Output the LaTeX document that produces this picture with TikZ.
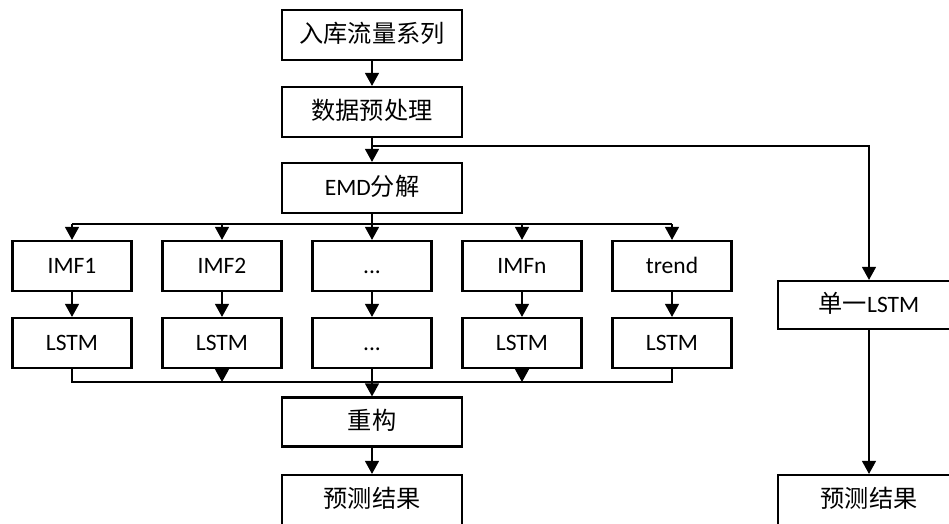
\documentclass[tikz,border=0pt]{standalone}
\usepackage{fontspec}
\setmainfont{Carlito}
\newfontfamily\cjk[Scale=1.03]{Noto Sans CJK SC}
\usetikzlibrary{arrows.meta}
\tikzset{
  box/.style={draw,line width=2.2pt,minimum width=180pt,minimum height=50pt,inner sep=0pt,
    text height=18pt,text depth=4pt,font=\fontsize{23.5}{28}\selectfont},
  smallbox/.style={box,minimum width=119pt},
  link/.style={line width=1.2pt}
}
\begin{document}
\begin{tikzpicture}[x=1pt,y=-1pt,>={Triangle[width=14pt,length=13pt]}]
\useasboundingbox (0,0) rectangle (949,523);
% main column
\node[box](in)at(372,35){\cjk 入库流量系列};
\node[box](pre)at(372,112){\cjk 数据预处理};
\node[box](emd)at(372,188){EMD{\cjk 分解}};
% components
\node[smallbox](imf1)at(72,266){IMF1};
\node[smallbox](imf2)at(222,266){IMF2};
\node[smallbox](dots)at(372,266){.{}.{}.};
\node[smallbox](imfn)at(522,266){IMFn};
\node[smallbox](trend)at(672,266){trend};
\node[smallbox](lstm1)at(72,343){LSTM};
\node[smallbox](lstm2)at(222,343){LSTM};
\node[smallbox](lstm3)at(372,343){.{}.{}.};
\node[smallbox](lstm4)at(522,343){LSTM};
\node[smallbox](lstm5)at(672,343){LSTM};
\node[box,minimum height=49pt](rec)at(372,422){\cjk 重构};
\node[box](res)at(372,500){\cjk 预测结果};
% single model
\node[box,minimum width=182pt,minimum height=48pt](single)at(869,305){{\cjk 单一}LSTM};
\node[box,minimum width=182pt](res2)at(869,500){\cjk 预测结果};
\coordinate(split)at(372,146);
\coordinate(top)at(372,224);
\coordinate(bot)at(372,382);

\draw[link,->](in)--(pre);
\draw[link,->](pre)--(emd);
\draw[link,->](split)-|(single.north);
\draw[link,->](single)--(res2);
\draw[link](emd)--(top);
\draw[link](imf1|-top)--(trend|-top);
\foreach \n/\m in {imf1/lstm1,imf2/lstm2,dots/lstm3,imfn/lstm4,trend/lstm5}{
  \draw[link,->](\n|-top)--(\n.north);
  \draw[link,->](\n)--(\m);
}
\draw[link](lstm1.south)|-(bot)-|(lstm5.south);
\draw[link,->](lstm2.south)--(lstm2|-bot);
\draw[link,->](lstm4.south)--(lstm4|-bot);
\draw[link,->](lstm3)--(rec);
\draw[link,->](rec)--(res);
\end{tikzpicture}
\end{document}
